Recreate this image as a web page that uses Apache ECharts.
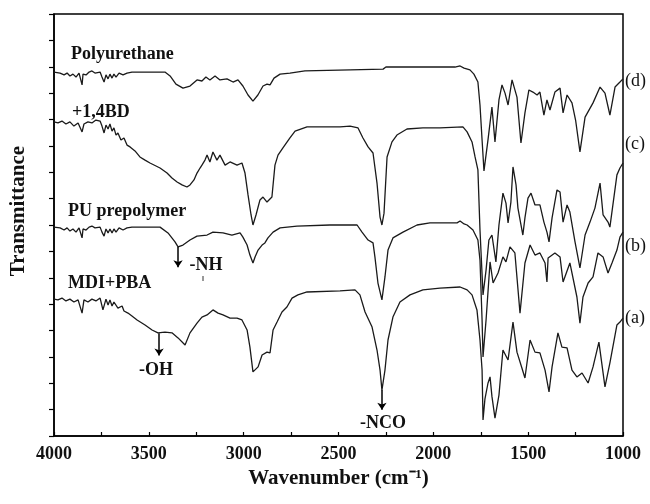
<!DOCTYPE html>
<html lang="en">
  <head>
    <meta charset="UTF-8" />
    <title>FTIR spectra - PU synthesis</title>
    <script src="https://cdn.jsdelivr.net/npm/echarts@6/dist/echarts.min.js"></script>
    <style>
      html, body { margin: 0; padding: 0; background: #fff; }
    </style>
  </head>
  <body>
    <div id="main" style="width: 650px; height: 504px"></div>
    <script type="text/javascript">
      // Wavenumber ticks (every 250, labelled every 500)
      const xTickLabels = [4000, 3500, 3000, 2500, 2000, 1500, 1000];

      // Spectra: [wavenumber, transmittance (offset, arbitrary units)]
      const mdiPba = [
        [4000,5.19],[3979,5.16],[3958,5.23],[3937,5.12],[3916,5.19],[3895,5.08],[3873,5.16],[3852,4.66],
        [3842,5.16],[3821,5.08],[3800,5.19],[3779,5.12],[3757,5.23],[3742,4.78],[3726,5.19],[3715,4.97],
        [3705,5.16],[3694,4.93],[3684,5.08],[3663,4.85],[3641,4.93],[3631,4.74],[3610,4.66],[3589,4.55],
        [3562,4.40],[3520,4.21],[3483,4.02],[3452,3.91],[3415,3.94],[3378,3.91],[3346,3.72],[3309,3.45],
        [3283,3.91],[3246,4.28],[3220,4.51],[3193,4.59],[3162,4.78],[3135,4.66],[3109,4.59],[3072,4.47],
        [3035,4.47],[3009,4.40],[2982,4.02],[2967,3.37],[2951,2.43],[2924,2.62],[2903,3.07],[2877,3.18],
        [2861,3.15],[2845,4.02],[2824,4.32],[2798,4.70],[2772,4.89],[2745,5.23],[2714,5.35],[2666,5.46],
        [2492,5.50],[2413,5.54],[2387,5.35],[2360,4.70],[2323,4.13],[2297,3.26],[2281,2.50],[2271,1.74],
        [2255,2.50],[2239,3.64],[2213,4.51],[2176,5.08],[2123,5.35],[2055,5.54],[1965,5.61],[1859,5.65],
        [1822,5.54],[1796,5.35],[1770,4.78],[1754,3.64],[1743,2.50],[1738,0.61],[1728,1.40],[1712,2.00],
        [1701,2.24],[1691,1.50],[1675,0.68],[1654,1.55],[1633,3.26],[1606,2.88],[1580,4.32],[1559,3.18],
        [1533,2.58],[1517,2.20],[1490,3.64],[1464,3.18],[1438,3.15],[1411,2.50],[1390,1.67],[1374,2.62],
        [1343,3.91],[1322,3.37],[1295,3.34],[1269,2.50],[1243,2.24],[1216,2.39],[1184,2.01],[1158,2.62],
        [1127,3.56],[1095,1.86],[1069,2.77],[1032,4.21],[1016,4.32],[1000,4.47]
      ];

      const prepolymer = [
        [4000,7.92],[3968,7.89],[3947,7.81],[3931,7.89],[3916,7.77],[3900,7.85],[3884,7.73],[3868,7.89],
        [3852,7.51],[3847,7.85],[3831,7.81],[3815,7.92],[3800,7.96],[3784,7.89],[3757,7.92],[3747,7.73],
        [3736,7.58],[3726,7.85],[3715,7.70],[3705,7.85],[3694,7.70],[3684,7.85],[3673,7.73],[3657,7.89],
        [3636,7.81],[3615,7.89],[3589,7.92],[3441,7.92],[3399,7.70],[3362,7.36],[3346,7.17],[3320,7.24],
        [3283,7.43],[3246,7.58],[3193,7.62],[3162,7.73],[3109,7.70],[3062,7.62],[3019,7.70],[3004,7.54],
        [2982,7.24],[2967,6.86],[2951,6.56],[2940,6.79],[2924,7.05],[2903,7.24],[2888,7.32],[2872,7.51],
        [2845,7.73],[2808,7.89],[2719,7.96],[2545,8.00],[2402,8.00],[2376,7.73],[2344,7.43],[2318,7.32],
        [2308,6.79],[2292,5.80],[2271,5.16],[2255,6.03],[2239,7.05],[2213,7.51],[2160,7.73],[2086,8.00],
        [2018,8.08],[1875,8.08],[1859,8.15],[1838,8.04],[1822,8.00],[1791,7.81],[1765,7.43],[1754,6.67],
        [1743,4.40],[1738,3.00],[1722,4.40],[1701,6.60],[1685,5.80],[1659,6.18],[1633,6.79],[1617,6.60],
        [1596,7.17],[1570,6.94],[1543,4.66],[1517,6.56],[1490,7.24],[1464,6.86],[1438,6.94],[1411,6.56],
        [1401,5.84],[1395,6.75],[1359,6.94],[1332,6.79],[1316,5.84],[1280,6.56],[1243,5.27],[1227,4.28],
        [1211,5.27],[1184,5.80],[1158,6.03],[1132,6.94],[1105,6.79],[1079,6.18],[1058,6.56],[1032,7.05],
        [1016,7.54],[1000,7.73]
      ];

      const plusBD = [
        [4000,11.91],[3979,11.87],[3958,11.94],[3937,11.83],[3916,11.91],[3895,11.75],[3873,11.87],[3852,11.53],
        [3842,11.83],[3821,11.91],[3800,11.87],[3779,11.98],[3757,11.94],[3747,11.75],[3736,11.49],[3726,11.79],
        [3715,11.64],[3705,11.83],[3694,11.56],[3684,11.68],[3673,11.41],[3663,11.49],[3647,11.22],[3631,11.30],
        [3615,11.03],[3599,10.96],[3573,10.81],[3547,10.58],[3520,10.46],[3494,10.35],[3441,10.16],[3404,9.97],
        [3378,9.78],[3351,9.63],[3325,9.52],[3299,9.44],[3283,9.52],[3262,9.71],[3246,9.97],[3230,10.16],
        [3220,10.27],[3204,10.46],[3193,10.65],[3178,10.39],[3162,10.77],[3141,10.46],[3125,10.65],[3098,10.27],
        [3072,10.39],[3035,10.27],[3009,10.35],[2993,9.97],[2977,9.14],[2961,8.38],[2951,8.00],[2935,8.38],
        [2914,8.95],[2898,9.06],[2877,8.87],[2851,9.06],[2835,10.27],[2819,10.65],[2793,10.92],[2756,11.30],
        [2729,11.56],[2666,11.72],[2492,11.72],[2439,11.75],[2397,11.68],[2371,11.30],[2344,10.96],[2318,10.73],
        [2297,9.59],[2281,8.30],[2271,8.00],[2260,8.45],[2244,10.58],[2218,11.15],[2192,11.41],[2139,11.64],
        [2055,11.68],[1965,11.68],[1844,11.72],[1822,11.53],[1796,11.15],[1780,10.58],[1765,10.09],[1754,7.81],
        [1738,5.35],[1722,6.29],[1707,7.43],[1691,7.62],[1670,6.60],[1654,8.00],[1633,9.21],[1617,8.83],
        [1606,8.08],[1591,8.87],[1580,10.20],[1564,9.52],[1554,8.64],[1528,7.62],[1517,8.27],[1501,9.02],
        [1485,9.21],[1464,8.76],[1438,8.76],[1417,8.11],[1401,7.73],[1390,7.36],[1374,8.27],[1348,9.33],
        [1332,9.25],[1316,8.11],[1295,8.76],[1280,8.49],[1253,7.36],[1227,6.37],[1200,7.62],[1174,8.11],
        [1148,8.64],[1121,9.59],[1105,8.38],[1079,8.11],[1069,7.92],[1032,9.90],[1016,10.16],[1000,10.35]
      ];

      const polyurethane = [
        [4000,13.80],[3968,13.76],[3947,13.69],[3931,13.76],[3916,13.65],[3900,13.72],[3884,13.61],[3868,13.76],
        [3852,13.31],[3847,13.72],[3831,13.69],[3815,13.80],[3800,13.84],[3784,13.76],[3757,13.80],[3747,13.61],
        [3736,13.42],[3726,13.69],[3715,13.54],[3705,13.72],[3694,13.57],[3684,13.72],[3673,13.61],[3657,13.76],
        [3636,13.69],[3615,13.76],[3589,13.80],[3547,13.80],[3415,13.80],[3388,13.65],[3357,13.34],[3320,13.19],
        [3283,13.27],[3246,13.50],[3220,13.46],[3199,13.61],[3178,13.50],[3151,13.65],[3125,13.50],[3088,13.54],
        [3056,13.42],[3030,13.50],[3004,13.27],[2977,12.93],[2951,12.70],[2925,12.93],[2898,13.27],[2877,13.34],
        [2861,13.31],[2840,13.57],[2808,13.72],[2756,13.76],[2677,13.84],[2439,13.88],[2265,13.91],[2250,13.99],
        [1965,13.99],[1886,13.99],[1859,14.03],[1838,13.95],[1807,13.88],[1786,13.72],[1765,13.42],[1754,12.55],
        [1743,11.22],[1733,10.05],[1712,11.22],[1691,12.47],[1675,11.15],[1654,12.74],[1638,13.31],[1622,13.00],
        [1606,12.55],[1585,13.50],[1575,13.54],[1559,12.85],[1538,11.11],[1517,12.25],[1496,13.12],[1475,13.04],
        [1453,12.93],[1438,13.04],[1417,12.17],[1401,12.74],[1385,12.36],[1359,13.04],[1332,13.19],[1316,12.25],
        [1295,12.93],[1269,12.63],[1250,11.98],[1227,10.77],[1200,12.09],[1158,12.63],[1121,13.23],[1095,13.00],
        [1069,12.17],[1042,13.23],[1016,13.42],[1000,13.54]
      ];

      const serif = '"Liberation Serif", "Times New Roman", serif';
      const lineColor = '#1a1a1a';

      let myChart = echarts.init(document.getElementById("main"));

      function spectrum(name, data, extra) {
        return Object.assign({
          name: name,
          type: "line",
          data: data,
          showSymbol: false,
          symbol: "none",
          lineStyle: { color: lineColor, width: 1.3 },
          silent: true,
        }, extra || {});
      }

      const arrowStyle = {
        silent: true,
        symbol: ["none", "arrow"],
        symbolSize: 7,
        label: { show: false },
        lineStyle: { color: "#000", width: 1.5, type: "solid" },
        itemStyle: { color: "#000" },
      };

      function text(str, x, y, opts) {
        return {
          type: "text",
          x: x,
          y: y,
          silent: true,
          style: Object.assign({
            text: str,
            font: "bold 18px " + serif,
            fill: "#111",
            align: "left",
            verticalAlign: "middle",
          }, opts || {}),
        };
      }

      let options = {
        animation: false,
        grid: {
          left: 54, right: 27, top: 14, bottom: 68,
          show: true, borderColor: "#000", borderWidth: 1.5,
        },
        xAxis: {
          type: "value",
          min: 1000, max: 4000, interval: 250,
          inverse: true,
          name: "Wavenumber (cm\u207B\u00B9)",
          nameLocation: "middle",
          nameGap: 29,
          nameTextStyle: { fontFamily: serif, fontWeight: "bold", fontSize: 21, color: "#111" },
          axisLine: { lineStyle: { color: "#000", width: 1.5 } },
          axisTick: { inside: true, length: 4, lineStyle: { color: "#000", width: 1.2 } },
          axisLabel: {
            fontFamily: serif, fontWeight: "bold", fontSize: 18, color: "#111", margin: 9,
            formatter: (v) => (xTickLabels.indexOf(v) >= 0 ? String(v) : ""),
          },
          splitLine: { show: false },
        },
        yAxis: {
          type: "value",
          min: 0, max: 16, interval: 1,
          axisLine: { show: true, lineStyle: { color: "#000", width: 1.5 } },
          axisTick: { show: true, inside: false, length: 5, lineStyle: { color: "#000", width: 1.2 } },
          axisLabel: { show: false },
          splitLine: { show: false },
        },
        series: [
          spectrum("MDI+PBA", mdiPba, {
            markLine: Object.assign({}, arrowStyle, {
              data: [
                [{ coord: [3446, 3.9] }, { coord: [3446, 3.05] }],
                [{ coord: [2271, 1.74] }, { coord: [2271, 1.0] }],
              ],
            }),
          }),
          spectrum("PU prepolymer", prepolymer, {
            markLine: Object.assign({}, arrowStyle, {
              data: [[{ coord: [3346, 7.17] }, { coord: [3346, 6.4] }]],
            }),
          }),
          spectrum("+1,4BD", plusBD),
          spectrum("Polyurethane", polyurethane),
        ],
        graphic: [
          text("Transmittance", 19, 211, {
            font: "bold 21px " + serif, align: "center",
          }),
          text("Polyurethane", 71, 54),
          text("+1,4BD", 72, 112),
          text("PU prepolymer", 68, 211),
          text("MDI+PBA", 68, 283),
          text("(d)", 625, 81, { font: "18px " + serif }),
          text("(c)", 625, 144, { font: "18px " + serif }),
          text("(b)", 625, 246, { font: "18px " + serif }),
          text("(a)", 625, 318, { font: "18px " + serif }),
          text("-NH", 206, 265, { align: "center" }),
          text("-OH", 156, 370, { align: "center" }),
          text("-NCO", 383, 423, { align: "center" }),
          {
            type: "line", silent: true,
            shape: { x1: 203, y1: 276, x2: 203, y2: 281 },
            style: { stroke: "#333", lineWidth: 1 },
          },
        ],
      };
      // rotate the y-axis title so it reads bottom to top
      options.graphic[0].rotation = Math.PI / 2;

      myChart.setOption(options);
    </script>
  </body>
</html>
